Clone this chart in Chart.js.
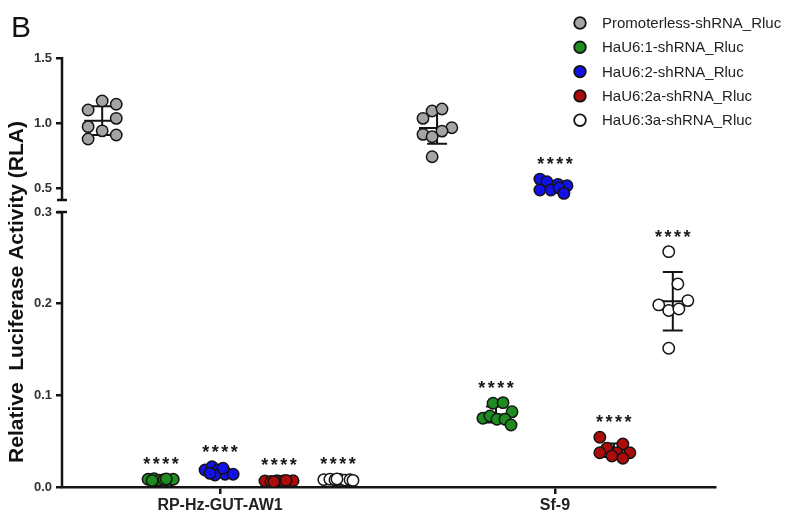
<!DOCTYPE html>
<html>
<head>
<meta charset="utf-8">
<script src="https://cdn.jsdelivr.net/npm/chart.js@4.4.0/dist/chart.umd.min.js"></script>
<style>
  html, body { margin: 0; padding: 0; background: #fff; }
  #wrap { width: 787px; height: 516px; position: relative; }
</style>
</head>
<body>
<div id="wrap"><canvas id="chart"></canvas></div>
<script>
// Cell lines on the x axis and the shRNA constructs tested in each
const cellLines = ['RP-Hz-GUT-AW1', 'Sf-9'];
const constructs = [
  'Promoterless-shRNA_Rluc',
  'HaU6:1-shRNA_Rluc',
  'HaU6:2-shRNA_Rluc',
  'HaU6:2a-shRNA_Rluc',
  'HaU6:3a-shRNA_Rluc'
];
const upperTicks = [0.5, 1.0, 1.5];
const lowerTicks = [0.0, 0.1, 0.2, 0.3];

// Relative luciferase activity of each replicate: [RP-Hz-GUT-AW1, Sf-9]
const promoterlessRLA = [
  [1.100, 1.169, 1.144, 1.036, 0.972, 0.940, 0.908, 0.877],
  [1.036, 1.092, 1.108, 0.964, 0.938, 0.913, 0.895, 0.741]
];
const hau6_1RLA = [
  [0.0085, 0.0090, 0.0075, 0.0080, 0.0070, 0.0085, 0.0070, 0.0088],
  [0.0913, 0.0920, 0.0820, 0.0750, 0.0775, 0.0739, 0.0739, 0.0676]
];
const hau6_2RLA = [
  [0.0185, 0.0221, 0.0185, 0.0139, 0.0139, 0.0131, 0.0204, 0.0149],
  [0.569, 0.548, 0.528, 0.518, 0.485, 0.485, 0.500, 0.459]
];
const hau6_2aRLA = [
  [0.0065, 0.0060, 0.0070, 0.0065, 0.0060, 0.0068, 0.0058, 0.0072],
  [0.0542, 0.0422, 0.0469, 0.0374, 0.0374, 0.0374, 0.0338, 0.0313]
];
const hau6_3aRLA = [
  [0.0080, 0.0085, 0.0078, 0.0082, 0.0075, 0.0079, 0.0072, 0.0088],
  [0.2567, 0.2215, 0.1986, 0.2033, 0.1925, 0.1942, 0.1513]
];

// Side-to-side scatter of the replicate dots inside their column (-1 .. 1)
const promoterlessSpread = [
  [-1, 0, 1, 1, -1, 0, 1, -1],
  [-1, -0.35, 0.35, 1.05, 0.35, -1, -0.35, -0.35]
];
const hau6_1Spread = [
  [-0.93, -0.5, -0.14, 0.21, 0.57, 0.86, -0.64, 0.36],
  [-0.21, 0.5, 1.14, -0.93, -0.43, 0.07, 0.64, 1.07]
];
const hau6_2Spread = [
  [-1.07, -0.57, -0.14, 0.36, 0.93, -0.36, 0.21, -0.71],
  [-1.07, -0.57, 0.21, 0.86, -1.07, -0.29, 0.29, 0.64]
];
const hau6_2aSpread = [
  [-1, -0.57, -0.14, 0.29, 0.71, 1, -0.36, 0.5],
  [-1, -0.5, 0.64, -1, 0.21, 1.14, -0.14, 0.64]
];
const hau6_3aSpread = [
  [-1, -0.57, -0.21, 0.14, 0.5, 0.86, 1.07, -0.07],
  [-0.29, 0.36, -1, 1.07, -0.29, 0.43, -0.29]
];

// Constructs compared against the promoterless control (p < 0.0001)
const significant = [false, true, true, true, true];

const allRLA = [promoterlessRLA, hau6_1RLA, hau6_2RLA, hau6_2aRLA, hau6_3aRLA];
const allSpread = [promoterlessSpread, hau6_1Spread, hau6_2Spread, hau6_2aSpread, hau6_3aSpread];
const fills = ['#a4a4a4', '#1e8c1e', '#1212e8', '#ae0b0b', '#ffffff'];

const LOW_TOP = 0.3;     // the lower segment of the broken axis ends here
const SLOT = 0.176;      // spacing between construct columns, x-axis units
const HALF_SPREAD = 0.042;
const FONT = "'Liberation Sans', Arial, Helvetica, sans-serif";

// One dataset per construct and cell line; values above the break use the upper axis
const datasets = [];
constructs.forEach((name, s) => {
  cellLines.forEach((cell, g) => {
    const vals = allRLA[s][g];
    const spread = allSpread[s][g];
    const center = g + 1 + (s - 2) * SLOT;
    const upper = vals.every(v => v > LOW_TOP);
    datasets.push({
      label: name,
      yAxisID: upper ? 'yHigh' : 'yLow',
      center: center,
      starred: significant[s],
      data: vals.map((v, i) => ({ x: center + spread[i] * HALF_SPREAD, y: v })),
      backgroundColor: fills[s],
      borderColor: '#141414',
      borderWidth: 1.5,
      pointRadius: 5.7,
      pointHoverRadius: 5.7,
      showLine: false
    });
  });
});

function meanSd(vals) {
  const m = vals.reduce((a, b) => a + b, 0) / vals.length;
  const v = vals.reduce((a, b) => a + (b - m) * (b - m), 0) / (vals.length - 1);
  return { m, sd: Math.sqrt(v) };
}

const yTickFont = { family: FONT, size: 13, weight: 'bold' };

const decorations = {
  id: 'decorations',
  beforeDatasetsDraw(chart) {
    // mean ± SD bars behind the dots
    const ctx = chart.ctx;
    const xs = chart.scales.x;
    ctx.save();
    ctx.strokeStyle = '#141414';
    ctx.lineWidth = 2;
    chart.data.datasets.forEach(ds => {
      const ys = chart.scales[ds.yAxisID];
      const { m, sd } = meanSd(ds.data.map(p => p.y));
      const cx = xs.getPixelForValue(ds.center);
      const yM = ys.getPixelForValue(m);
      const yA = ys.getPixelForValue(m + sd);
      const yB = ys.getPixelForValue(m - sd);
      ctx.beginPath();
      ctx.moveTo(cx, yA); ctx.lineTo(cx, yB);
      ctx.moveTo(cx - 10, yA); ctx.lineTo(cx + 10, yA);
      ctx.moveTo(cx - 10, yB); ctx.lineTo(cx + 10, yB);
      ctx.moveTo(cx - 18, yM); ctx.lineTo(cx + 18, yM);
      ctx.stroke();
    });
    ctx.restore();
  },
  afterDraw(chart) {
    const ctx = chart.ctx;
    const xs = chart.scales.x;
    const hi = chart.scales.yHigh;
    const lo = chart.scales.yLow;
    const ax = chart.chartArea.left;
    ctx.save();

    // broken y axis: two segments with end caps at the break
    ctx.strokeStyle = '#141414';
    ctx.lineWidth = 2.5;
    const hiTop = hi.getPixelForValue(hi.max);
    const hiEnd = hi.getPixelForValue(0.408);
    const loTop = lo.getPixelForValue(LOW_TOP);
    const loEnd = lo.getPixelForValue(0);
    ctx.beginPath();
    ctx.moveTo(ax, hiTop - 1); ctx.lineTo(ax, hiEnd);
    ctx.moveTo(ax - 5, hiEnd); ctx.lineTo(ax + 5, hiEnd);
    ctx.moveTo(ax, loTop); ctx.lineTo(ax, loEnd + 1);
    ctx.moveTo(ax - 5, loTop); ctx.lineTo(ax + 5, loTop);
    ctx.stroke();

    // significance stars above each treated column
    ctx.fillStyle = '#1a1a1a';
    ctx.font = 'bold 18px ' + FONT;
    ctx.textAlign = 'center';
    ctx.textBaseline = 'alphabetic';
    chart.data.datasets.forEach(ds => {
      if (!ds.starred) return;
      const ys = chart.scales[ds.yAxisID];
      const top = Math.min(...ds.data.map(p => ys.getPixelForValue(p.y)));
      const cx = xs.getPixelForValue(ds.center);
      const cy = top - 19;
      for (let k = 0; k < 4; k++) {
        ctx.fillText('*', cx + (k - 1.5) * 9.5, cy + 10);
      }
    });

    // legend
    ctx.textAlign = 'left';
    ctx.textBaseline = 'middle';
    ctx.font = '15px ' + FONT;
    constructs.forEach((name, i) => {
      const y = 23 + i * 24.3;
      ctx.beginPath();
      ctx.arc(580, y, 5.8, 0, Math.PI * 2);
      ctx.fillStyle = fills[i];
      ctx.fill();
      ctx.lineWidth = 1.8;
      ctx.strokeStyle = '#141414';
      ctx.stroke();
      ctx.fillStyle = '#222';
      ctx.fillText(name, 602, y + 1);
    });

    // y axis title spanning both segments
    ctx.save();
    ctx.translate(17, 292);
    ctx.rotate(-Math.PI / 2);
    ctx.textAlign = 'center';
    ctx.textBaseline = 'middle';
    ctx.font = 'bold 21px ' + FONT;
    ctx.fillStyle = '#111';
    ctx.fillText('Relative  Luciferase Activity (RLA)', 0, 0);
    ctx.restore();

    // panel letter
    ctx.font = '30px ' + FONT;
    ctx.fillStyle = '#111';
    ctx.textAlign = 'left';
    ctx.textBaseline = 'alphabetic';
    ctx.fillText('B', 11, 37);
    ctx.restore();
  }
};

function yAxis(ticks, extra) {
  return Object.assign({
    type: 'linear',
    position: 'left',
    stack: 'rla',
    border: { display: false },
    grid: { display: true, drawOnChartArea: false, drawTicks: true, tickLength: 6, color: '#141414', lineWidth: 2.5 },
    ticks: {
      font: yTickFont, color: '#333', padding: 4, includeBounds: false,
      callback: v => Number(v).toFixed(1)
    },
    afterBuildTicks: s => { s.ticks = ticks.map(v => ({ value: v })); },
    afterFit: s => { s.width = 62; }
  }, extra);
}

new Chart(document.getElementById('chart'), {
  type: 'scatter',
  data: { datasets },
  options: {
    responsive: true,
    maintainAspectRatio: false,
    animation: false,
    devicePixelRatio: 1,
    layout: { padding: { top: 58, right: 72, bottom: 0, left: 0 } },
    plugins: { legend: { display: false }, tooltip: { enabled: false } },
    scales: {
      x: {
        type: 'linear',
        min: 0.528,
        max: 2.478,
        border: { display: true, color: '#141414', width: 2.5 },
        grid: { display: true, drawOnChartArea: false, drawTicks: true, tickLength: 7, color: '#141414', lineWidth: 2.5 },
        ticks: {
          font: { family: FONT, size: 16, weight: 'bold' }, color: '#222', padding: 2,
          autoSkip: false, maxRotation: 0,
          callback: v => cellLines[Math.round(v) - 1]
        },
        afterBuildTicks: s => { s.ticks = cellLines.map((c, i) => ({ value: i + 1 })); },
        afterFit: s => { s.height = 29; }
      },
      yLow: yAxis(lowerTicks, { min: 0, max: 0.3065, stackWeight: 281 }),
      yHigh: yAxis(upperTicks, { min: 0.362, max: 1.5, stackWeight: 148 })
    }
  },
  plugins: [decorations]
});
</script>
</body>
</html>
